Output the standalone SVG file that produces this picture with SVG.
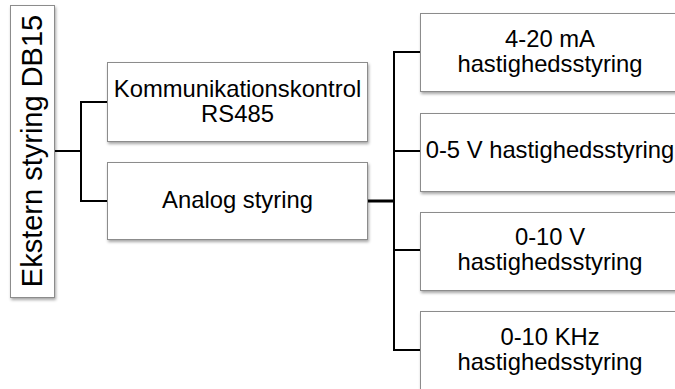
<svg xmlns="http://www.w3.org/2000/svg" width="675" height="389" viewBox="0 0 675 389">
  <defs>
    <filter id="sh" x="-10%" y="-10%" width="130%" height="130%">
      <feDropShadow dx="1" dy="2" stdDeviation="1.5" flood-color="#000" flood-opacity="0.35"/>
    </filter>
  </defs>
  <style>
    .box { fill: #ffffff; stroke: #8c8c8c; stroke-width: 1; filter: url(#sh); }
    .t { font-family: "Liberation Sans", Arial, sans-serif; font-size: 23.8px; fill: #000; text-anchor: middle; }
    .c { fill: none; stroke: #000; stroke-width: 2; }
  </style>
  <rect width="675" height="389" fill="#ffffff"/>

  <g id="connectors">
    <polyline class="c" points="55,151 81,151"/>
    <polyline class="c" points="107,102 81,102 81,201 107,201"/>
    <polyline class="c" style="stroke-width:3" points="368,201 394,201"/>
    <polyline class="c" points="421,52 394,52 394,350 421,350"/>
    <polyline class="c" points="394,151 421,151"/>
    <polyline class="c" points="394,250 421,250"/>
  </g>

  <g id="root">
    <rect class="box" x="10.5" y="5.5" width="44" height="292"/>
    <text class="t" style="font-size:29px" transform="translate(41.5,151) rotate(-90)" x="0" y="0">Ekstern styring DB15</text>
  </g>

  <g id="komm">
    <rect class="box" x="107.5" y="62.5" width="260" height="79"/>
    <text class="t" x="237.5" y="97">Kommunikationskontrol</text>
    <text class="t" x="237.5" y="122">RS485</text>
  </g>

  <g id="analog">
    <rect class="box" x="107.5" y="162.5" width="260" height="77"/>
    <text class="t" x="237.5" y="208">Analog styring</text>
  </g>

  <g id="ma">
    <rect class="box" x="420.5" y="13.5" width="262" height="78"/>
    <text class="t" x="550" y="47">4-20 mA</text>
    <text class="t" x="550" y="72">hastighedsstyring</text>
  </g>

  <g id="v5">
    <rect class="box" x="420.5" y="113.5" width="262" height="78"/>
    <text class="t" x="550" y="158">0-5 V hastighedsstyring</text>
  </g>

  <g id="v10">
    <rect class="box" x="420.5" y="212.5" width="262" height="78"/>
    <text class="t" x="550" y="245">0-10 V</text>
    <text class="t" x="550" y="270">hastighedsstyring</text>
  </g>

  <g id="khz">
    <rect class="box" x="420.5" y="311.5" width="262" height="90"/>
    <text class="t" x="550" y="345">0-10 KHz</text>
    <text class="t" x="550" y="370">hastighedsstyring</text>
  </g>
</svg>
